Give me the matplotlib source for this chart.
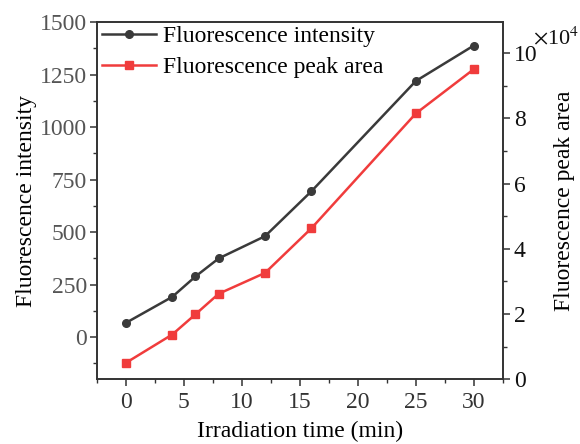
import matplotlib
matplotlib.use("Agg")
import matplotlib.pyplot as plt
from matplotlib.ticker import MultipleLocator, AutoMinorLocator, FuncFormatter

plt.rcParams['font.family'] = ['Liberation Serif', 'DejaVu Serif']
plt.rcParams['mathtext.fontset'] = 'stix'

time_min = [0, 4, 6, 8, 12, 16, 25, 30]
intensity = [68, 192, 289, 375, 481, 695, 1220, 1389]
peak_area = [0.50e4, 1.37e4, 1.99e4, 2.62e4, 3.26e4, 4.63e4, 8.15e4, 9.51e4]

fig = plt.figure(figsize=(5.8, 4.44), dpi=100)
ax = fig.add_axes([0.167, 0.146, 0.700, 0.804])
ax2 = ax.twinx()

black = '#3a3a3a'
red = '#f03c3c'
l1, = ax.plot(time_min, intensity, '-o', color=black, lw=1.8, ms=5.5, label='Fluorescence intensity')
l2, = ax2.plot(time_min, peak_area, '-s', color=red, lw=1.8, ms=5.5, label='Fluorescence peak area')

ax.set_xlim(-2.5, 32.5)
ax.set_ylim(-200, 1500)
ax2.set_ylim(0, 10.95e4)

ax.xaxis.set_major_locator(MultipleLocator(5))
ax.xaxis.set_minor_locator(AutoMinorLocator(2))
ax.yaxis.set_major_locator(MultipleLocator(250))
ax.yaxis.set_minor_locator(AutoMinorLocator(2))
ax2.yaxis.set_major_locator(MultipleLocator(2e4))
ax2.yaxis.set_minor_locator(AutoMinorLocator(2))
ax2.yaxis.set_major_formatter(FuncFormatter(lambda v, p: f'{v/1e4:g}'))

for a in (ax, ax2):
    for s in a.spines.values():
        s.set_color('#333333')
        s.set_linewidth(1.2)
fs = 17
ax.tick_params(axis='both', which='major', direction='out', length=5, width=1.1, labelsize=fs, colors='#333333', pad=2)
ax.tick_params(axis='both', which='minor', direction='out', length=3, width=1.0, colors='#333333')
ax.tick_params(axis='y', labelcolor='#555555')
ax.tick_params(axis='x', labelcolor='#333333', pad=4)
ax2.tick_params(axis='y', which='major', direction='out', length=5, width=1.1, labelsize=fs, colors='#333333', labelcolor='#111111', pad=3)
ax2.tick_params(axis='y', which='minor', direction='out', length=3, width=1.0, colors='#333333')

fig.text(0.998, 1 - 38 / 444, r'$\times$10$^{4}$', fontsize=16,
         ha='right', va='center', color='#111111')

ax.set_xlabel('Irradiation time (min)', fontsize=fs, labelpad=6)
ax.set_ylabel('Fluorescence intensity', fontsize=fs, labelpad=2)
ax2.set_ylabel('Fluorescence peak area', fontsize=fs, labelpad=12)

ax.legend(handles=[l1, l2], loc='upper left', bbox_to_anchor=(0.012, 0.99), frameon=False, fontsize=fs,
          handlelength=2.3, handletextpad=0.3, borderaxespad=0, borderpad=0, labelspacing=0.4)

fig.savefig('out.png', dpi=100)
